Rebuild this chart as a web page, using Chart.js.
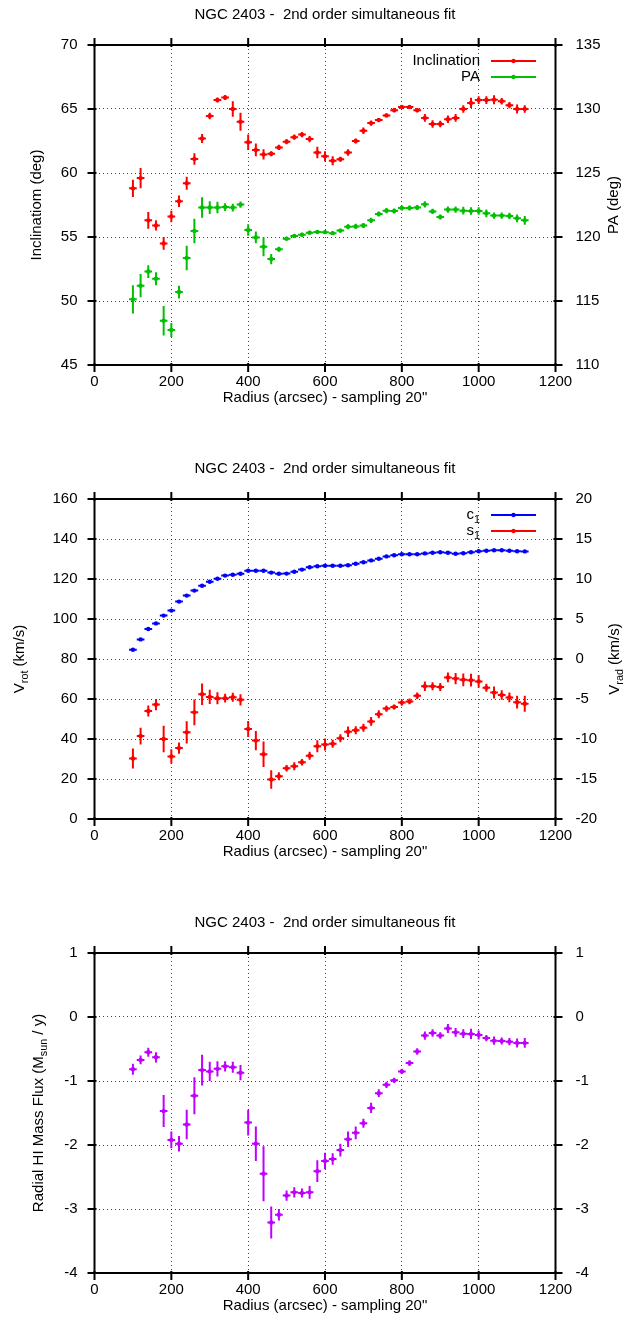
<!DOCTYPE html>
<html><head><meta charset="utf-8">
<script src="https://cdn.jsdelivr.net/npm/chart.js@4/dist/chart.umd.min.js"></script>
<style>
html,body{margin:0;padding:0;background:#fff;}
#wrap{position:relative;width:640px;height:1329px;overflow:hidden;}
.p{position:absolute;left:0;width:640px;height:421px;}
</style></head><body>
<div id="wrap">
<div class="p" style="top:0px"><canvas id="c1"></canvas></div>
<div class="p" style="top:454px"><canvas id="c2"></canvas></div>
<div class="p" style="top:908px"><canvas id="c3"></canvas></div>
</div>
<script>
const radius = [100,120,140,160,180,200,220,240,260,280,300,320,340,360,380,400,420,440,460,480,500,520,540,560,580,600,
620,640,660,680,700,720,740,760,780,800,820,840,860,880,900,920,940,960,980,1000,1020,1040,1060,1080,1100,1120];
const radiusHalfBin = 10;

const inclination = [58.8,59.6,56.3,55.9,54.5,56.6,57.8,59.2,61.1,62.7,64.45,65.7,65.9,65.0,64.0,62.4,61.8,61.45,61.5,62.0,62.45,62.8,63.0,62.65,61.6,61.3,
60.96,61.07,61.6,62.5,63.3,63.9,64.14,64.5,64.9,65.16,65.16,64.9,64.3,63.83,63.83,64.2,64.3,65.0,65.47,65.7,65.7,65.73,65.6,65.3,65.0,65.0];
const inclinationErr = [0.68,0.8,0.65,0.4,0.5,0.45,0.45,0.5,0.45,0.35,0.25,0.2,0.2,0.6,0.7,0.6,0.5,0.4,0.2,0.2,0.2,0.2,0.2,0.25,0.45,0.4,
0.35,0.2,0.25,0.2,0.25,0.2,0.15,0.15,0.15,0.15,0.15,0.15,0.3,0.3,0.25,0.3,0.3,0.3,0.4,0.3,0.3,0.35,0.25,0.25,0.35,0.3];

const pa = [115.13,116.2,117.3,116.74,113.46,112.73,115.7,118.36,120.47,122.3,122.3,122.3,122.34,122.3,122.53,120.55,119.97,119.24,118.28,119.04,119.87,120.08,120.18,120.34,120.4,120.38,
120.3,120.5,120.8,120.83,120.9,121.3,121.8,122.06,122.03,122.27,122.27,122.3,122.55,122.0,121.56,122.14,122.14,122.06,122.03,122.03,121.85,121.67,121.67,121.64,121.46,121.3];
const paErr = [1.1,0.9,0.5,0.5,1.15,0.55,0.5,0.95,0.95,0.8,0.5,0.45,0.3,0.3,0.25,0.45,0.45,0.75,0.4,0.2,0.15,0.15,0.15,0.15,0.15,0.15,
0.15,0.15,0.2,0.2,0.2,0.2,0.2,0.2,0.2,0.2,0.2,0.2,0.25,0.2,0.2,0.25,0.25,0.3,0.3,0.3,0.3,0.25,0.25,0.25,0.3,0.35];

const vrotC1 = [84.6,89.8,95.0,97.8,101.7,104.2,108.7,111.7,114.2,116.6,118.6,120.1,121.7,122.1,122.6,124.1,124.1,124.1,123.2,122.6,122.7,123.6,124.7,125.9,126.4,126.6,
126.6,126.6,126.9,127.6,128.4,129.3,130.1,131.3,131.9,132.4,132.4,132.4,132.8,133.1,133.4,133.1,132.6,132.9,133.4,133.9,134.1,134.4,134.4,134.1,133.9,133.8];
const vrotC1Err = [0.5,0.5,0.5,0.5,0.5,0.5,0.5,0.5,0.5,0.5,0.5,0.4,0.4,0.4,0.4,0.4,0.4,0.4,0.4,0.4,0.4,0.4,0.4,0.4,0.4,0.4,
0.4,0.4,0.4,0.4,0.4,0.4,0.4,0.4,0.4,0.4,0.4,0.4,0.4,0.4,0.4,0.4,0.4,0.4,0.4,0.4,0.4,0.4,0.4,0.4,0.4,0.4];

const vradS1 = [-12.43,-9.63,-6.5,-5.7,-10.0,-12.18,-11.14,-9.17,-6.67,-4.4,-4.74,-4.9,-4.9,-4.78,-5.1,-8.75,-10.2,-11.9,-15.07,-14.65,-13.65,-13.4,-12.9,-12.1,-10.9,-10.7,
-10.6,-9.9,-9.1,-8.9,-8.6,-7.8,-6.9,-6.2,-6.0,-5.45,-5.3,-4.6,-3.4,-3.4,-3.5,-2.3,-2.45,-2.6,-2.65,-2.8,-3.6,-4.2,-4.5,-4.8,-5.4,-5.6];
const vradS1Err = [1.25,1.05,0.7,0.7,1.65,0.9,0.7,1.4,1.6,1.35,0.9,0.75,0.55,0.55,0.7,1.0,1.2,1.6,1.15,0.5,0.4,0.5,0.4,0.5,0.75,0.75,
0.5,0.5,0.65,0.5,0.5,0.55,0.5,0.4,0.3,0.4,0.35,0.4,0.6,0.5,0.5,0.6,0.7,0.8,0.8,0.8,0.5,0.75,0.6,0.6,0.8,1.0];

const massFlux = [-0.816,-0.67,-0.55,-0.63,-1.47,-1.92,-1.98,-1.68,-1.23,-0.83,-0.85,-0.81,-0.77,-0.785,-0.87,-1.65,-1.98,-2.45,-3.21,-3.09,-2.79,-2.74,-2.75,-2.74,-2.41,-2.25,
-2.22,-2.08,-1.91,-1.81,-1.66,-1.42,-1.19,-1.06,-0.99,-0.85,-0.72,-0.54,-0.29,-0.25,-0.29,-0.18,-0.24,-0.26,-0.265,-0.28,-0.33,-0.37,-0.375,-0.385,-0.405,-0.405];
const massFluxErr = [0.085,0.07,0.07,0.08,0.25,0.13,0.12,0.23,0.29,0.24,0.15,0.12,0.08,0.085,0.12,0.2,0.27,0.43,0.25,0.09,0.08,0.08,0.07,0.1,0.17,0.13,
0.09,0.1,0.12,0.1,0.07,0.08,0.06,0.05,0.04,0.04,0.045,0.05,0.065,0.06,0.05,0.07,0.07,0.07,0.08,0.07,0.05,0.065,0.055,0.055,0.07,0.075];

const xTicks = {min:0, max:1200, step:200};
const titleText = 'NGC 2403 -  2nd order simultaneous fit';
const xLabel = 'Radius (arcsec) - sampling 20"';

const FONT = '"Liberation Sans", Arial, Helvetica, sans-serif';
const FS = 15;
const RED = '#ff0000', GREEN = '#00c000', BLUE = '#0000ff', PURPLE = '#c000ff';

function pts(ys){ return radius.map((r,i)=>({x:r, y:ys[i]})); }
function fnt(s){ return s + 'px ' + FONT; }

function richWidth(ctx, parts, size){
  let w = 0;
  parts.forEach(p=>{ ctx.font = fnt(p.sub ? size*0.72 : size); w += ctx.measureText(p.t).width; });
  return w;
}
function drawRich(ctx, parts, x, y, size, align){
  const w = richWidth(ctx, parts, size);
  let cx = align==='center' ? x - w/2 : (align==='right' ? x - w : x);
  ctx.textBaseline = 'middle'; ctx.textAlign = 'left'; ctx.fillStyle = '#000';
  parts.forEach(p=>{
    const s = p.sub ? size*0.72 : size;
    ctx.font = fnt(s);
    ctx.fillText(p.t, cx, y + (p.sub ? size*0.32 : 0));
    cx += ctx.measureText(p.t).width;
  });
}

const errorBars = {
  id:'errorBars',
  beforeDatasetsDraw(chart){
    const ctx = chart.ctx, a = chart.chartArea;
    ctx.save();
    ctx.beginPath(); ctx.rect(a.left, a.top, a.right-a.left, a.bottom-a.top); ctx.clip();
    chart.data.datasets.forEach((ds,di)=>{
      if(!ds.yErr) return;
      const meta = chart.getDatasetMeta(di);
      const xs = chart.scales[meta.xAxisID], ys = chart.scales[meta.yAxisID];
      ctx.strokeStyle = ds.borderColor; ctx.lineWidth = 2;
      ds.data.forEach((p,i)=>{
        const e = ds.yErr[i];
        const x = xs.getPixelForValue(p.x), y = ys.getPixelForValue(p.y);
        const x0 = xs.getPixelForValue(p.x - radiusHalfBin), x1 = xs.getPixelForValue(p.x + radiusHalfBin);
        const y0 = ys.getPixelForValue(p.y - e), y1 = ys.getPixelForValue(p.y + e);
        ctx.beginPath();
        ctx.moveTo(x0, y); ctx.lineTo(x1, y);
        ctx.moveTo(x, y0); ctx.lineTo(x, y1);
        ctx.stroke();
      });
    });
    ctx.restore();
  }
};

const decor = {
  id:'decor',
  afterDraw(chart, args, o){
    const ctx = chart.ctx, a = chart.chartArea;
    ctx.save();
    ctx.strokeStyle = '#000'; ctx.lineWidth = 2;
    ctx.strokeRect(a.left, a.top, a.right-a.left, a.bottom-a.top);
    const OUT = 7, IN = 2;
    ctx.beginPath();
    const xs = chart.scales.x;
    xs.ticks.forEach(t=>{
      const px = xs.getPixelForValue(t.value);
      ctx.moveTo(px, a.bottom - IN); ctx.lineTo(px, a.bottom + OUT);
      ctx.moveTo(px, a.top + IN); ctx.lineTo(px, a.top - OUT);
    });
    const yl = chart.scales.y;
    yl.ticks.forEach(t=>{
      const py = yl.getPixelForValue(t.value);
      ctx.moveTo(a.left - OUT, py); ctx.lineTo(a.left + IN, py);
    });
    const yr = chart.scales.y2;
    yr.ticks.forEach(t=>{
      const py = yr.getPixelForValue(t.value);
      ctx.moveTo(a.right - IN, py); ctx.lineTo(a.right + OUT, py);
    });
    ctx.stroke();
    drawRich(ctx, [{t:titleText}], (a.left+a.right)/2, 15, FS, 'center');
    drawRich(ctx, [{t:xLabel}], (a.left+a.right)/2, 398, FS, 'center');
    const cy = (a.top + a.bottom)/2;
    if(o.left){ ctx.save(); ctx.translate(o.leftX, cy); ctx.rotate(-Math.PI/2); drawRich(ctx, o.left, 0, 0, FS, 'center'); ctx.restore(); }
    if(o.right){ ctx.save(); ctx.translate(o.rightX, cy); ctx.rotate(-Math.PI/2); drawRich(ctx, o.right, 0, 0, FS, 'center'); ctx.restore(); }
    if(o.legend){
      o.legend.forEach((it,i)=>{
        const y = 61 + i*16;
        drawRich(ctx, it.parts, 480, y, FS, 'right');
        ctx.strokeStyle = it.color; ctx.lineWidth = 2;
        ctx.beginPath(); ctx.moveTo(491, y); ctx.lineTo(536, y); ctx.stroke();
        ctx.fillStyle = it.color; ctx.beginPath(); ctx.arc(513.5, y, 2.2, 0, Math.PI*2); ctx.fill();
      });
    }
    ctx.restore();
  }
};

function plain(v){ return String(v); }

function makeChart(id, datasets, yl, yr, deco){
  const tickFont = {family: FONT, size: FS};
  return new Chart(document.getElementById(id), {
    type:'scatter',
    data:{datasets},
    plugins:[errorBars, decor],
    options:{
      responsive:true, maintainAspectRatio:false, animation:false,
      layout:{padding:{top:45, left:0, right:0, bottom:0}},
      plugins:{legend:{display:false}, title:{display:false}, tooltip:{enabled:false}, decor:deco},
      scales:{
        x:{type:'linear', position:'bottom', min:xTicks.min, max:xTicks.max,
           ticks:{stepSize:xTicks.step, color:'#000', font:tickFont, padding:8, maxRotation:0, callback:plain},
           grid:{color:'rgba(0,0,0,0.75)', lineWidth:1, drawTicks:false},
           border:{display:false, dash:[1,3]},
           afterFit(s){ s.height = 56; }},
        y:{type:'linear', position:'left', min:yl.min, max:yl.max,
           ticks:{stepSize:yl.step, color:'#000', font:tickFont, padding:17, callback:plain},
           grid:{color:'rgba(0,0,0,0.75)', lineWidth:1, drawTicks:false},
           border:{display:false, dash:[1,3]},
           afterFit(s){ s.width = 94.5; }},
        y2:{type:'linear', position:'right', min:yr.min, max:yr.max,
           ticks:{stepSize:yr.step, color:'#000', font:tickFont, padding:20, callback:plain},
           grid:{display:false, drawTicks:false},
           border:{display:false},
           afterFit(s){ s.width = 84.5; }}
      }
    }
  });
}

function ds(label, ys, err, color, axis){
  return {label, data:pts(ys), yErr:err, yAxisID:axis, borderColor:color, backgroundColor:color,
    pointRadius:2.2, pointBorderWidth:0, showLine:false};
}

makeChart('c1',
  [ds('Inclination', inclination, inclinationErr, RED, 'y'), ds('PA', pa, paErr, GREEN, 'y2')],
  {min:45, max:70, step:5}, {min:110, max:135, step:5},
  {left:[{t:'Inclinatiom (deg)'}], leftX:37, right:[{t:'PA (deg)'}], rightX:614,
   legend:[{parts:[{t:'Inclination'}], color:RED}, {parts:[{t:'PA'}], color:GREEN}]});

makeChart('c2',
  [ds('c1', vrotC1, vrotC1Err, BLUE, 'y'), ds('s1', vradS1, vradS1Err, RED, 'y2')],
  {min:0, max:160, step:20}, {min:-20, max:20, step:5},
  {left:[{t:'V'},{t:'rot',sub:true},{t:' (km/s)'}], leftX:20, right:[{t:'V'},{t:'rad',sub:true},{t:' (km/s)'}], rightX:615,
   legend:[{parts:[{t:'c'},{t:'1',sub:true}], color:BLUE}, {parts:[{t:'s'},{t:'1',sub:true}], color:RED}]});

makeChart('c3',
  [ds('Mass flux', massFlux, massFluxErr, PURPLE, 'y')],
  {min:-4, max:1, step:1}, {min:-4, max:1, step:1},
  {left:[{t:'Radial HI Mass Flux (M'},{t:'sun',sub:true},{t:' / y)'}], leftX:39});
</script>
</body></html>
